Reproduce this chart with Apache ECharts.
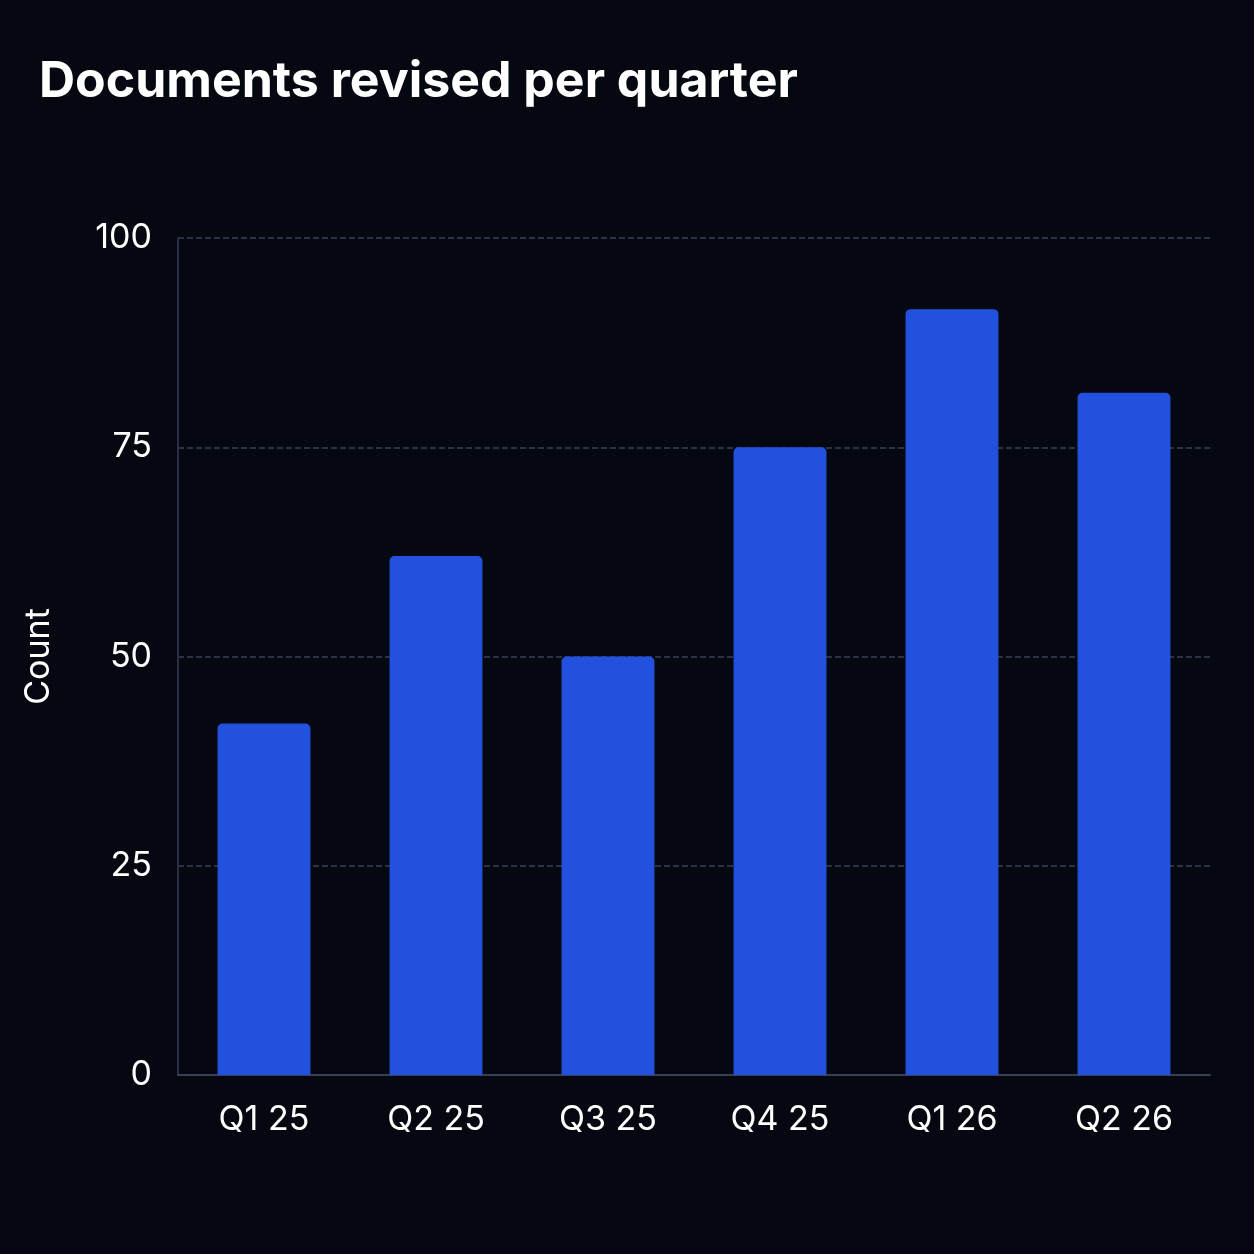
<!DOCTYPE html>
<html><head><meta charset="utf-8">
<script src="https://cdn.jsdelivr.net/npm/echarts@6/dist/echarts.min.js"></script>
<style>html,body{margin:0;background:#060811;}#c{width:1254px;height:1254px;}</style>
</head><body><div id="c"></div>
<script>
const categories = ["Q1 25","Q2 25","Q3 25","Q4 25","Q1 26","Q2 26"];
const counts = [42, 62, 50, 75, 91.5, 81.5];
const yTicks = [0, 25, 50, 75, 100];
const chart = echarts.init(document.getElementById('c'));
chart.setOption({
  backgroundColor: '#060811',
  title: {text: 'Documents revised per quarter', left: 34, top: 52,
    textStyle: {color: '#ffffff', fontSize: 50, fontWeight: 'bold', fontFamily: 'Inter'}},
  grid: {left: 178, right: 44, top: 238, bottom: 179},
  xAxis: {type: 'category', data: categories,
    axisLine: {lineStyle: {color: '#3a3f55', width: 2}}, axisTick: {show: false},
    axisLabel: {color: '#ffffff', fontSize: 34, margin: 28, fontFamily: 'Inter'}},
  yAxis: {type: 'value', min: yTicks[0], max: yTicks[yTicks.length-1], interval: 25,
    name: 'Count', nameLocation: 'middle', nameGap: 122, nameRotate: 90,
    nameTextStyle: {color: '#ffffff', fontSize: 34, fontFamily: 'Inter'},
    axisLine: {show: true, lineStyle: {color: '#2a2e40', width: 2}},
    axisLabel: {color: '#ffffff', fontSize: 34, margin: 26, fontFamily: 'Inter'},
    splitLine: {lineStyle: {color: '#3a3f55', type: 'dashed', width: 1.5}}},
  series: [{type: 'bar', data: counts, barWidth: '54%',
    itemStyle: {color: '#2151de', borderRadius: [5,5,0,0]}}]
});
</script></body></html>
